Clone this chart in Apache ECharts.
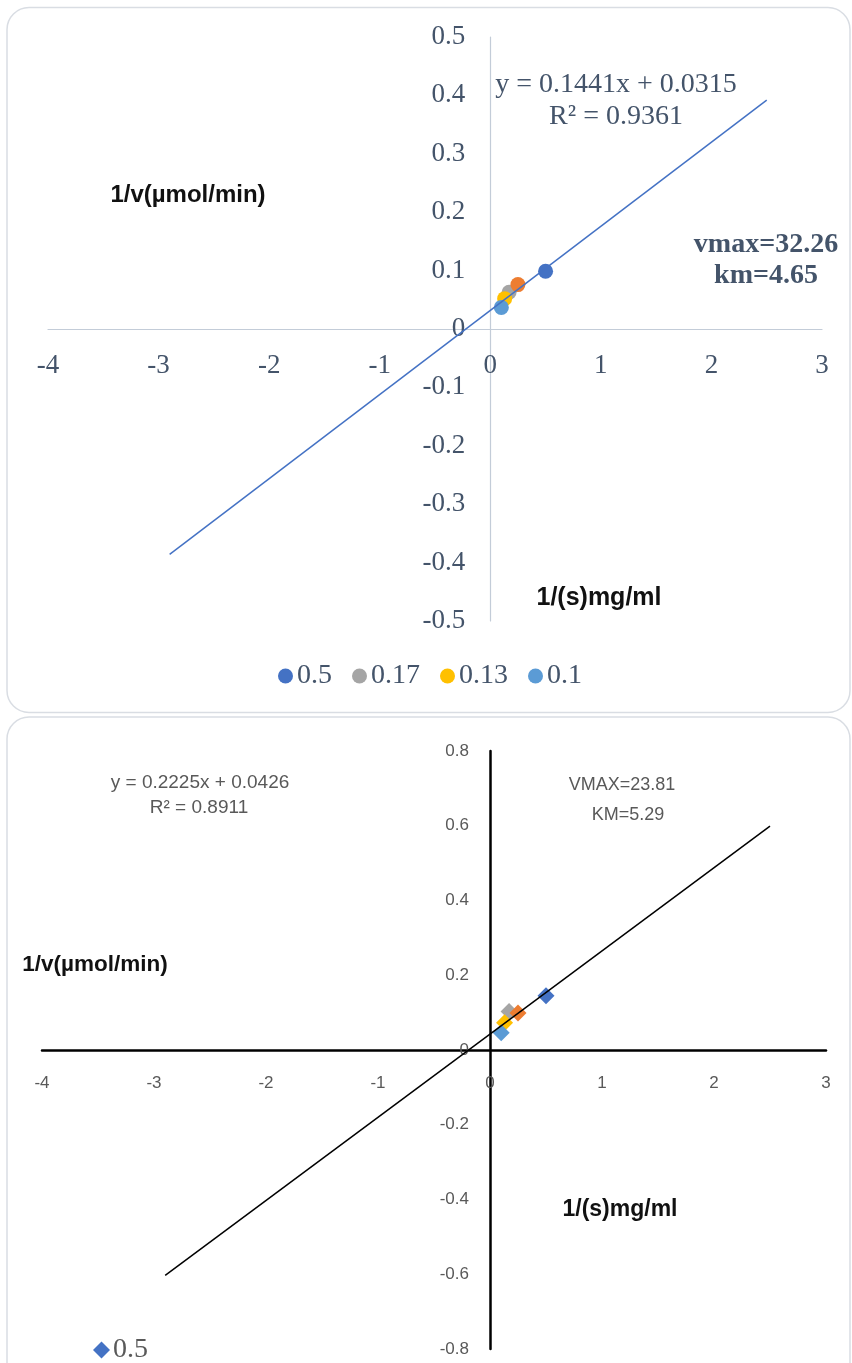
<!DOCTYPE html>
<html>
<head>
<meta charset="utf-8">
<script src="https://cdn.jsdelivr.net/npm/echarts@6/dist/echarts.min.js"></script>
<style>
html,body{margin:0;padding:0;background:#fff;}
#c{width:852px;height:1363px;}
</style>
</head>
<body>
<div id="c"></div>
<script>
// ---- data ----
var seriesNames = ['0.5', '0.25', '0.17', '0.13', '0.1'];
var seriesColors = ['#4472C4', '#ED7D31', '#A5A5A5', '#FFC000', '#5B9BD5'];
// chart 1 (top)
var c1X = [0.5, 0.25, 0.17, 0.13, 0.1];
var c1Y = [0.099, 0.076, 0.063, 0.052, 0.037];
var trend1X = [-2.9, 2.5];
var trend1Y = [-0.386, 0.392];
var c1XTicks = [-4, -3, -2, -1, 0, 1, 2, 3];
var c1YTicks = [-0.5, -0.4, -0.3, -0.2, -0.1, 0, 0.1, 0.2, 0.3, 0.4, 0.5];
var legend1Names = ['0.5', '0.17', '0.13', '0.1'];
// chart 2 (bottom)
var c2X = [0.5, 0.25, 0.17, 0.13, 0.1];
var c2Y = [0.145, 0.099, 0.103, 0.073, 0.046];
var trend2X = [-2.9, 2.5];
var trend2Y = [-0.603, 0.599];
var c2XTicks = [-4, -3, -2, -1, 0, 1, 2, 3];
var c2YTicks = [-0.8, -0.6, -0.4, -0.2, 0, 0.2, 0.4, 0.6, 0.8];
var legend2Names = ['0.5'];
// draw order (bottom -> top)
var drawOrder = [0, 2, 3, 4, 1];

var chart = echarts.init(document.getElementById('c'), null, {renderer: 'canvas'});

var serif = '"Liberation Serif", "Times New Roman", serif';
var sans = '"Liberation Sans", Arial, sans-serif';
var slate = '#44546A';
var grayTxt = '#595959';

var grids = [
  {left: 48, top: 37, width: 774, height: 584},
  {left: 42, top: 751, width: 784, height: 598}
];
var tickSets = [[c1XTicks, c1YTicks], [c2XTicks, c2YTicks]];

// pixel distance from grid edge to the zero line of the other axis
function zeroOffsetX(gi) {
  var t = tickSets[gi][0], g = grids[gi];
  return g.width * (0 - t[0]) / (t[t.length - 1] - t[0]);
}
function zeroOffsetY(gi) {
  var t = tickSets[gi][1], g = grids[gi];
  return g.height * (0 - t[0]) / (t[t.length - 1] - t[0]);
}

function axisCfg(ticks, gi, offset, lineColor, lineW, fontFam, fontSize, color, margin) {
  return {
    type: 'value', gridIndex: gi,
    min: ticks[0], max: ticks[ticks.length - 1],
    interval: Math.round((ticks[1] - ticks[0]) * 1000) / 1000,
    offset: -offset,
    axisLine: {show: true, onZero: false, lineStyle: {color: lineColor, width: lineW}},
    axisTick: {show: false},
    splitLine: {show: false},
    axisLabel: {fontFamily: fontFam, fontSize: fontSize, color: color, margin: margin,
      showMinLabel: true, showMaxLabel: true}
  };
}

var series = [];
drawOrder.forEach(function (i) {
  series.push({
    type: 'scatter', name: seriesNames[i], xAxisIndex: 0, yAxisIndex: 0,
    symbol: 'circle', symbolSize: 15,
    itemStyle: {color: seriesColors[i], opacity: 1},
    data: [[c1X[i], c1Y[i]]], z: 3
  });
});
series.push({
  type: 'line', name: 'trend1', xAxisIndex: 0, yAxisIndex: 0,
  showSymbol: false, symbol: 'none',
  lineStyle: {color: '#4472C4', width: 1.5},
  data: [[trend1X[0], trend1Y[0]], [trend1X[1], trend1Y[1]]], z: 4
});
drawOrder.forEach(function (i) {
  series.push({
    type: 'scatter', name: seriesNames[i], xAxisIndex: 1, yAxisIndex: 1,
    symbol: 'diamond', symbolSize: 17,
    itemStyle: {color: seriesColors[i], opacity: 1},
    data: [[c2X[i], c2Y[i]]], z: 3
  });
});
series.push({
  type: 'line', name: 'trend2', xAxisIndex: 1, yAxisIndex: 1,
  showSymbol: false, symbol: 'none',
  lineStyle: {color: '#000000', width: 1.5},
  data: [[trend2X[0], trend2Y[0]], [trend2X[1], trend2Y[1]]], z: 4
});

function txt(t, x, y, size, fam, weight, color) {
  return {type: 'text', x: x, y: y, z: 10,
    style: {text: t, textAlign: 'center', textVerticalAlign: 'middle',
      fontSize: size, fontFamily: fam, fontWeight: weight, fill: color}};
}

var option = {
  animation: false,
  backgroundColor: '#ffffff',
  grid: grids.map(function (g) {
    return Object.assign({containLabel: false, outerBoundsMode: 'none'}, g);
  }),
  xAxis: [
    axisCfg(c1XTicks, 0, zeroOffsetY(0), '#C3CCD8', 1.2, serif, 27, slate, 23),
    axisCfg(c2XTicks, 1, zeroOffsetY(1), '#000000', 2.5, sans, 17, grayTxt, 25)
  ],
  yAxis: [
    axisCfg(c1YTicks, 0, zeroOffsetX(0), '#C3CCD8', 1.2, serif, 27, slate, 25),
    axisCfg(c2YTicks, 1, zeroOffsetX(1), '#000000', 2.5, sans, 17, grayTxt, 21)
  ],
  legend: [
    {data: legend1Names.map(function (n) { return {name: n, icon: 'circle'}; }),
      left: 273, top: 657, itemWidth: 15, itemHeight: 15, itemGap: 20,
      textStyle: {fontFamily: serif, fontSize: 28, color: slate, padding: [0, 0, 0, -1]}},
    {data: legend2Names.map(function (n) { return {name: n, icon: 'diamond'}; }),
      left: 88, top: 1331, itemWidth: 17, itemHeight: 17,
      textStyle: {fontFamily: serif, fontSize: 28, color: grayTxt, padding: [0, 0, 0, -2]}}
  ],
  graphic: [
    {type: 'rect', z: -1, shape: {x: 7, y: 7.5, width: 843, height: 705, r: 22},
      style: {fill: 'none', stroke: '#D9DDE3', lineWidth: 1.5}},
    {type: 'rect', z: -1, shape: {x: 7, y: 717, width: 843, height: 700, r: 22},
      style: {fill: 'none', stroke: '#D9DDE3', lineWidth: 1.5}},
    txt('y = 0.1441x + 0.0315', 616, 85, 28, serif, 'normal', slate),
    txt('R² = 0.9361', 616, 117, 28, serif, 'normal', slate),
    txt('vmax=32.26', 766, 245, 28, serif, 'bold', slate),
    txt('km=4.65', 766, 276, 28, serif, 'bold', slate),
    txt('1/v(µmol/min)', 188, 195, 24, sans, 'bold', '#111111'),
    txt('1/(s)mg/ml', 599, 598, 25, sans, 'bold', '#111111'),
    txt('y = 0.2225x + 0.0426', 200, 783, 19, sans, 'normal', grayTxt),
    txt('R² = 0.8911', 199, 808, 19, sans, 'normal', grayTxt),
    txt('VMAX=23.81', 622, 785, 18, sans, 'normal', grayTxt),
    txt('KM=5.29', 628, 815, 18, sans, 'normal', grayTxt),
    txt('1/v(µmol/min)', 95, 965, 22.5, sans, 'bold', '#111111'),
    txt('1/(s)mg/ml', 620, 1210, 23, sans, 'bold', '#111111')
  ],
  series: series
};
chart.setOption(option);
</script>
</body>
</html>
